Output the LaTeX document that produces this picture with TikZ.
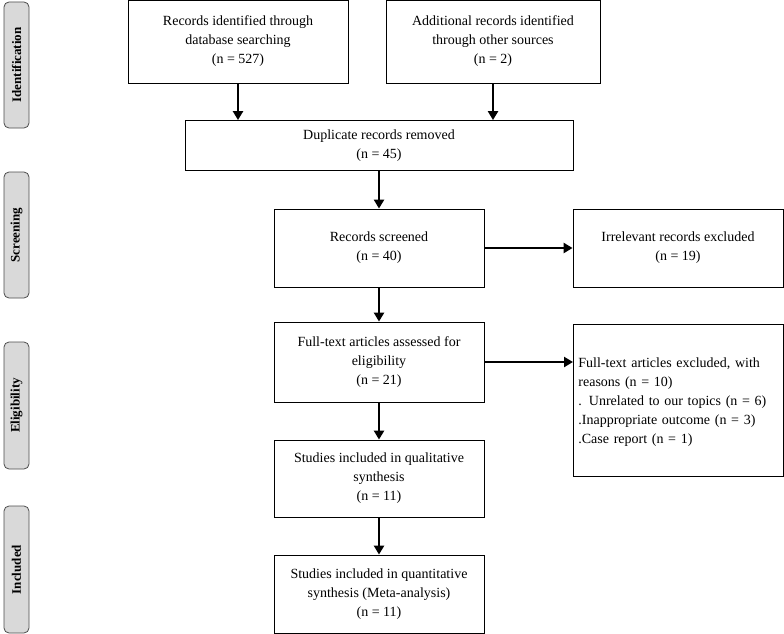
\documentclass[tikz,border=0pt]{standalone}
\usepackage{fontspec}
\setmainfont{Liberation Serif}
\usetikzlibrary{arrows.meta}
\begin{document}
\begin{tikzpicture}[x=1pt,y=-1pt,
  box/.style={draw,line width=0.8pt,align=center,font=\fontsize{14}{19}\selectfont,inner sep=0pt},
  side/.style={draw=black!70,fill=black!15,rounded corners=5pt,line width=0.8pt},
  sidetxt/.style={rotate=90,font=\bfseries\fontsize{13}{15}\selectfont},
  arr/.style={line width=2.4pt,-{Triangle[length=9pt,width=10pt]}}]
\useasboundingbox (0,0) rectangle (784,634);
\foreach \n/\a/\b/\t in {s1/2/128/Identification,s2/172/298/Screening,s3/342/469/Eligibility,s4/506/633/Included}{
  \draw[side] (4,\a) rectangle (29,\b);
  \node[sidetxt] (\n) at (16.5,{(\a+\b)/2}) {\t};
}
\node[box,minimum width=220,minimum height=83] (A) at (238,41.5) {Records identified through\\database searching\\(n = 527)};
\node[box,minimum width=214,minimum height=83] (B) at (493,41.5) {Additional records identified\\through other sources\\(n = 2)};
\node[box,minimum width=388,minimum height=50] (C) at (379,145.5) {Duplicate records removed\\(n = 45)};
\node[box,minimum width=210,minimum height=78] (D) at (379,248) {Records screened\\(n = 40)};
\node[box,minimum width=210,minimum height=78] (E) at (678,248) {Irrelevant records excluded\\(n = 19)};
\node[box,minimum width=210,minimum height=80] (F) at (379,362) {Full-text articles assessed for\\eligibility\\(n = 21)};
\node[box,minimum width=210,minimum height=152,align=left,text width=200,anchor=north west] (G) at (573,324) {\\[-6pt]Full-text articles excluded, with\\reasons (n = 10)\\. Unrelated to our topics (n = 6)\\.Inappropriate outcome (n = 3)\\.Case report (n = 1)};
\node[box,minimum width=210,minimum height=77] (H) at (379,478.5) {Studies included in qualitative\\synthesis\\(n = 11)};
\node[box,minimum width=210,minimum height=78] (I) at (379,594) {Studies included in quantitative\\synthesis (Meta-analysis)\\(n = 11)};
\draw[arr] (A.south) -- (A.south |- C.north);
\draw[arr] (B.south) -- (B.south |- C.north);
\draw[arr] (C) -- (D);
\draw[arr] (D) -- (E);
\draw[arr] (F) -- (F.east -| G.west);
\draw[arr] (D) -- (F);
\draw[arr] (F) -- (H);
\draw[arr] (H) -- (I);
\end{tikzpicture}
\end{document}
